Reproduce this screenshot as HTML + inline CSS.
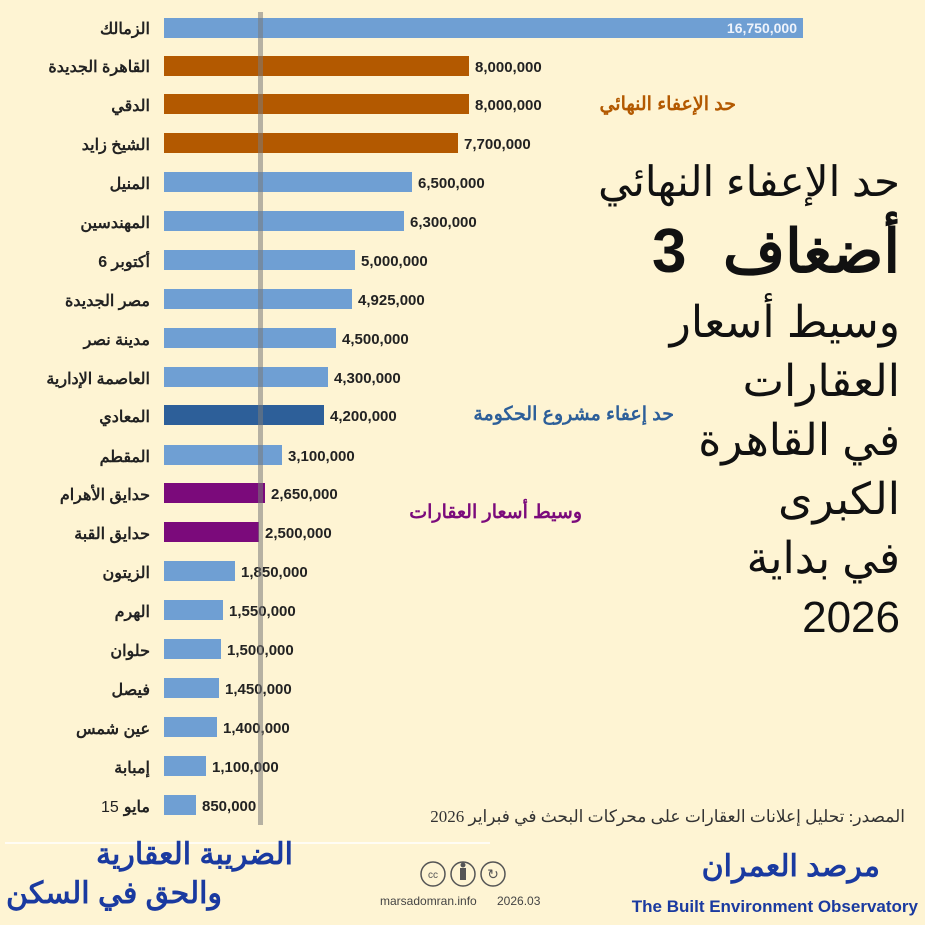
<!DOCTYPE html>
<html><head><meta charset="utf-8"><style>
body{margin:0;background:#fef4d3;}
svg{display:block;font-family:"Liberation Sans","Noto Sans CJK SC",sans-serif;}
</style></head><body>
<svg width="925" height="925" viewBox="0 0 925 925">
<rect width="925" height="925" fill="#fef4d3"/>
<g font-weight="bold" font-size="15" fill="#222">
<rect x="164" y="18" width="639" height="20" fill="#6f9fd3"/>
<text x="797" y="33" text-anchor="end" fill="#eef3fb" font-size="14">16,750,000</text>
<text x="150" y="34" text-anchor="end" font-size="16">الزمالك</text>

<rect x="164" y="56" width="305" height="20" fill="#b35900"/>
<text x="475" y="72">8,000,000</text>
<text x="150" y="72" text-anchor="end" font-size="16">القاهرة الجديدة</text>

<rect x="164" y="94" width="305" height="20" fill="#b35900"/>
<text x="475" y="110">8,000,000</text>
<text x="150" y="111" text-anchor="end" font-size="16">الدقي</text>

<rect x="164" y="133" width="294" height="20" fill="#b35900"/>
<text x="464" y="149">7,700,000</text>
<text x="150" y="150" text-anchor="end" font-size="16">الشيخ زايد</text>

<rect x="164" y="172" width="248" height="20" fill="#6f9fd3"/>
<text x="418" y="188">6,500,000</text>
<text x="150" y="189" text-anchor="end" font-size="16">المنيل</text>

<rect x="164" y="211" width="240" height="20" fill="#6f9fd3"/>
<text x="410" y="227">6,300,000</text>
<text x="150" y="228" text-anchor="end" font-size="16">المهندسين</text>

<rect x="164" y="250" width="191" height="20" fill="#6f9fd3"/>
<text x="361" y="266">5,000,000</text>
<text x="150" y="267" text-anchor="end" font-size="16">أكتوبر 6</text>

<rect x="164" y="289" width="188" height="20" fill="#6f9fd3"/>
<text x="358" y="305">4,925,000</text>
<text x="150" y="306" text-anchor="end" font-size="16">مصر الجديدة</text>

<rect x="164" y="328" width="172" height="20" fill="#6f9fd3"/>
<text x="342" y="344">4,500,000</text>
<text x="150" y="345" text-anchor="end" font-size="16">مدينة نصر</text>

<rect x="164" y="367" width="164" height="20" fill="#6f9fd3"/>
<text x="334" y="383">4,300,000</text>
<text x="150" y="384" text-anchor="end" font-size="16">العاصمة الإدارية</text>

<rect x="164" y="405" width="160" height="20" fill="#2d5f99"/>
<text x="330" y="421">4,200,000</text>
<text x="150" y="422" text-anchor="end" font-size="16">المعادي</text>

<rect x="164" y="445" width="118" height="20" fill="#6f9fd3"/>
<text x="288" y="461">3,100,000</text>
<text x="150" y="462" text-anchor="end" font-size="16">المقطم</text>

<rect x="164" y="483" width="101" height="20" fill="#7b0a7b"/>
<text x="271" y="499">2,650,000</text>
<text x="150" y="500" text-anchor="end" font-size="16">حدايق الأهرام</text>

<rect x="164" y="522" width="95" height="20" fill="#7b0a7b"/>
<text x="265" y="538">2,500,000</text>
<text x="150" y="539" text-anchor="end" font-size="16">حدايق القبة</text>

<rect x="164" y="561" width="71" height="20" fill="#6f9fd3"/>
<text x="241" y="577">1,850,000</text>
<text x="150" y="578" text-anchor="end" font-size="16">الزيتون</text>

<rect x="164" y="600" width="59" height="20" fill="#6f9fd3"/>
<text x="229" y="616">1,550,000</text>
<text x="150" y="617" text-anchor="end" font-size="16">الهرم</text>

<rect x="164" y="639" width="57" height="20" fill="#6f9fd3"/>
<text x="227" y="655">1,500,000</text>
<text x="150" y="656" text-anchor="end" font-size="16">حلوان</text>

<rect x="164" y="678" width="55" height="20" fill="#6f9fd3"/>
<text x="225" y="694">1,450,000</text>
<text x="150" y="695" text-anchor="end" font-size="16">فيصل</text>

<rect x="164" y="717" width="53" height="20" fill="#6f9fd3"/>
<text x="223" y="733">1,400,000</text>
<text x="150" y="734" text-anchor="end" font-size="16">عين شمس</text>

<rect x="164" y="756" width="42" height="20" fill="#6f9fd3"/>
<text x="212" y="772">1,100,000</text>
<text x="150" y="773" text-anchor="end" font-size="16">إمبابة</text>

<rect x="164" y="795" width="32" height="20" fill="#6f9fd3"/>
<text x="202" y="811">850,000</text>
<text x="150" y="812" text-anchor="end" font-size="16">مايو</text>
<text x="101" y="812" font-size="16" font-weight="normal">15</text>
</g>
<rect x="258" y="12" width="5" height="813" fill="#7a7a7a" opacity="0.55"/>
<g font-weight="bold" font-size="19">
<text x="736" y="110" text-anchor="end" fill="#b35900">حد الإعفاء النهائي</text>
<text x="674" y="420" text-anchor="end" fill="#2d5f99">حد إعفاء مشروع الحكومة</text>
<text x="582" y="518" text-anchor="end" fill="#7b0a7b">وسيط أسعار العقارات</text>
</g>
<g fill="#111" text-anchor="end">
<text x="900" y="196" font-size="42">حد الإعفاء النهائي</text>
<text x="900" y="272" font-size="60" font-weight="bold">أضغاف</text>
<text x="652" y="272" font-size="62" font-weight="bold" text-anchor="start">3</text>
<text x="900" y="337" font-size="44">وسيط أسعار</text>
<text x="900" y="396" font-size="44">العقارات</text>
<text x="900" y="455" font-size="44">في القاهرة</text>
<text x="900" y="514" font-size="44">الكبرى</text>
<text x="900" y="573" font-size="44">في بداية</text>
<text x="900" y="632" font-size="44">2026</text>
</g>
<text x="905" y="822" text-anchor="end" font-size="17" fill="#333" font-family="Liberation Serif,serif">المصدر: تحليل إعلانات العقارات على محركات البحث في فبراير 2026</text>
<line x1="5" y1="843" x2="490" y2="843" stroke="#fff" stroke-width="1.5"/>
<g font-weight="bold" fill="#1a3aa0" text-anchor="end">
<text x="293" y="864" font-size="30">الضريبة العقارية</text>
<text x="222" y="903" font-size="30">والحق في السكن</text>
<text x="880" y="876" font-size="30" fill="#1a3aa0">مرصد العمران</text>
</g>
<text x="918" y="912" text-anchor="end" font-size="17" font-weight="bold" fill="#1a3aa0">The Built Environment Observatory</text>
<g fill="none" stroke="#555" stroke-width="1.5">
<circle cx="433" cy="874" r="12"/><circle cx="463" cy="874" r="12"/><circle cx="493" cy="874" r="12"/>
</g>
<text x="433" y="878" text-anchor="middle" font-size="10" fill="#555">cc</text>
<rect x="460" y="868" width="6" height="12" fill="#555"/><circle cx="463" cy="865" r="2.5" fill="#555"/>
<text x="493" y="879" text-anchor="middle" font-size="14" fill="#555">↻</text>
<text x="380" y="905" font-size="12" fill="#444">marsadomran.info</text>
<text x="497" y="905" font-size="12" fill="#444">2026.03</text>
</svg>
</body></html>
